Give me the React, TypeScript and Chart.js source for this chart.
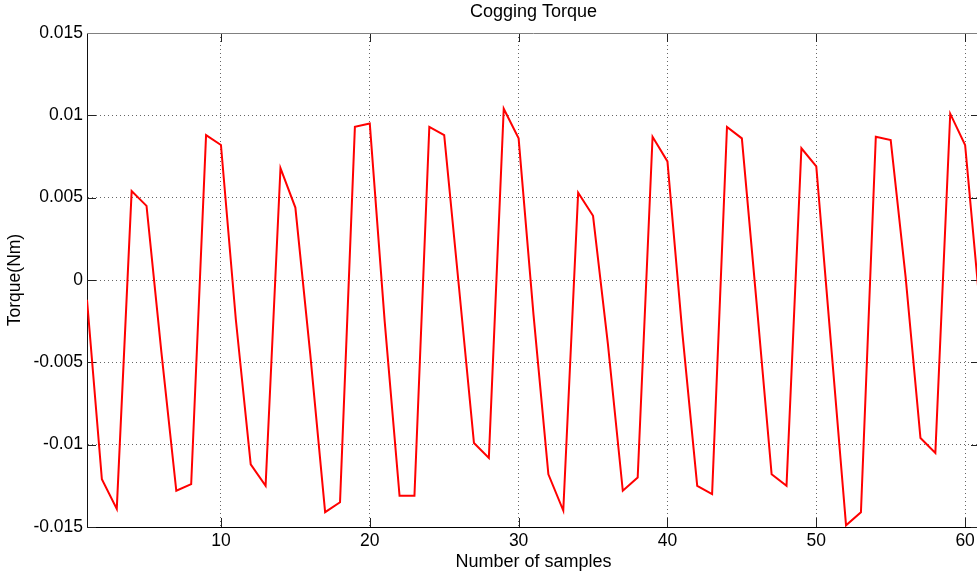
import { useEffect, useRef } from 'react';
import { Chart, registerables } from 'chart.js';

Chart.register(...registerables);

const samples = [
  1, 2, 3, 4, 5, 6, 7, 8, 9, 10,
  11, 12, 13, 14, 15, 16, 17, 18, 19, 20,
  21, 22, 23, 24, 25, 26, 27, 28, 29, 30,
  31, 32, 33, 34, 35, 36, 37, 38, 39, 40,
  41, 42, 43, 44, 45, 46, 47, 48, 49, 50,
  51, 52, 53, 54, 55, 56, 57, 58, 59, 60,
  61,
];

const torque = [
  -0.0012, -0.0121, -0.0139, 0.0054, 0.0045, -0.0044, -0.0128, -0.0124, 0.0088, 0.0082,
  -0.0024, -0.0112, -0.0125, 0.0068, 0.0044, -0.0045, -0.0141, -0.0135, 0.0093, 0.0095,
  -0.0025, -0.0131, -0.0131, 0.0093, 0.0088, -0.0005, -0.0099, -0.0108, 0.0104, 0.0086,
  -0.0021, -0.0118, -0.0140, 0.0053, 0.0039, -0.0039, -0.0128, -0.0120, 0.0087, 0.0072,
  -0.0032, -0.0125, -0.0130, 0.0093, 0.0086, -0.0015, -0.0118, -0.0125, 0.0080, 0.0069,
  -0.0040, -0.0149, -0.0141, 0.0087, 0.0085, 0.0002, -0.0096, -0.0105, 0.0101, 0.0082,
  -0.0017,
];

const xTicks = [10, 20, 30, 40, 50, 60];
const yTicks = [-0.015, -0.01, -0.005, 0, 0.005, 0.01, 0.015];

const FONT = '"Liberation Sans", Arial, sans-serif';
const GRID_COLOR = 'rgba(0,0,0,0.6)';

const boxPlugin = {
  id: 'matlabBox',
  beforeDatasetsDraw(chart: any) {
    const { ctx, chartArea, scales } = chart;
    const { left, right, top, bottom } = chartArea;
    const x = scales.x;
    const y = scales.y;
    const tl = 9;
    ctx.save();
    ctx.lineWidth = 1;
    ctx.strokeStyle = '#222';
    ctx.beginPath();
    for (const v of xTicks) {
      const px = Math.round(x.getPixelForValue(v)) + 0.5;
      ctx.moveTo(px, bottom);
      ctx.lineTo(px, bottom - tl);
      ctx.moveTo(px, top);
      ctx.lineTo(px, top + tl);
    }
    for (const v of yTicks) {
      const py = Math.round(y.getPixelForValue(v)) + 0.5;
      ctx.moveTo(left, py);
      ctx.lineTo(left + tl, py);
      ctx.moveTo(right, py);
      ctx.lineTo(right - tl, py);
    }
    ctx.stroke();
    ctx.strokeStyle = '#808080';
    ctx.beginPath();
    ctx.moveTo(left, Math.round(top) + 0.5);
    ctx.lineTo(right, Math.round(top) + 0.5);
    ctx.moveTo(Math.round(right) - 0.5, top);
    ctx.lineTo(Math.round(right) - 0.5, bottom);
    ctx.stroke();
    ctx.restore();
  },
};

function fmt(v: number) {
  const n = Number(Number(v).toFixed(3));
  if (n === 0) return '0';
  return String(n);
}

export default function App() {
  const canvasRef = useRef<HTMLCanvasElement | null>(null);

  useEffect(() => {
    const canvas = canvasRef.current;
    if (!canvas) return;
    const chart = new Chart(canvas, {
      type: 'line',
      data: {
        datasets: [
          {
            label: 'Cogging Torque',
            data: samples.map((s, i) => ({ x: s, y: torque[i] })),
            borderColor: '#ff0000',
            backgroundColor: '#ff0000',
            borderWidth: 2,
            pointRadius: 0,
            tension: 0,
            fill: false,
          },
        ],
      },
      options: {
        responsive: false,
        animation: false,
        devicePixelRatio: 1,
        layout: { padding: { left: 0, right: 10, top: 0, bottom: 0 } },
        plugins: {
          legend: { display: false },
          tooltip: { enabled: false },
          title: {
            display: true,
            text: 'Cogging Torque',
            fullSize: false,
            color: '#000',
            font: { family: FONT, size: 18, weight: 'normal' },
            padding: { top: 1.5, bottom: 9.9 },
          },
        },
        scales: {
          x: {
            type: 'linear',
            min: 1,
            max: 61,
            afterBuildTicks: (s: any) => {
              s.ticks = xTicks.map((v) => ({ value: v }));
            },
            afterFit: (s: any) => {
              s.height = 53;
            },
            grid: { color: GRID_COLOR, lineWidth: 1, drawTicks: false },
            border: { display: true, color: '#000', width: 1, dash: [1, 3] },
            ticks: {
              color: '#000',
              font: { family: FONT, size: 17.5 },
              padding: 4,
              maxRotation: 0,
              autoSkip: false,
            },
            title: {
              display: true,
              text: 'Number of samples',
              color: '#000',
              font: { family: FONT, size: 18 },
              padding: { top: 0, bottom: 7.5 },
            },
          },
          y: {
            type: 'linear',
            min: -0.015,
            max: 0.015,
            afterBuildTicks: (s: any) => {
              s.ticks = yTicks.map((v) => ({ value: v }));
            },
            afterFit: (s: any) => {
              s.width = 87;
            },
            grid: { color: GRID_COLOR, lineWidth: 1, drawTicks: false },
            border: { display: true, color: '#111', width: 1, dash: [1, 3] },
            ticks: {
              color: '#000',
              font: { family: FONT, size: 17.5 },
              padding: 4,
              autoSkip: false,
              callback: (v: any) => fmt(Number(v)),
            },
            title: {
              display: true,
              text: 'Torque(Nm)',
              color: '#000',
              font: { family: FONT, size: 17.5 },
              padding: { top: 5, bottom: 0 },
            },
          },
        },
      },
      plugins: [boxPlugin],
    } as any);
    return () => {
      chart.destroy();
    };
  }, []);

  return (
    <div style={{ position: 'fixed', left: 0, top: 0, width: 990, height: 580, background: '#fff' }}>
      <canvas ref={canvasRef} width={990} height={580} style={{ display: 'block' }} />
    </div>
  );
}
